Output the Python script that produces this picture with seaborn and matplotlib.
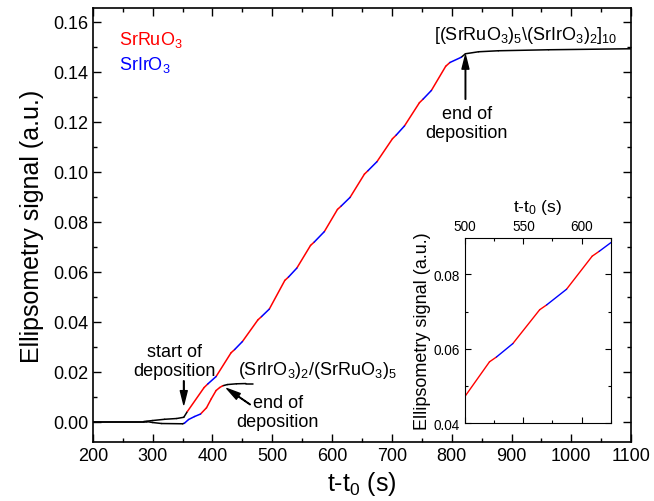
import matplotlib
matplotlib.use("Agg")
import matplotlib.pyplot as plt
import pandas as pd
import seaborn as sns
from matplotlib.ticker import MultipleLocator, FormatStrFormatter

# ---- data ----
# superlattice [(SrRuO3)5\(SrIrO3)2]10 : breakpoints (s, a.u.); layer of each following segment
sl_t = [200, 285, 300, 320, 340, 352, 358,
        386, 392, 406, 431, 437, 450, 476, 482, 495, 521, 527, 541,
        564, 570, 587, 609, 615, 630, 654, 660, 675, 701, 707, 721,
        746, 752, 766, 790, 797, 816,
        823, 845, 878, 962, 1100]
sl_y = [0.0, 0.0, 0.0004, 0.0009, 0.0012, 0.0017, 0.0040,
        0.0136, 0.0150, 0.0180, 0.0275, 0.0288, 0.0320, 0.0407, 0.0420, 0.0450,
        0.0565, 0.0578, 0.0614, 0.0705, 0.0718, 0.0760, 0.0849, 0.0862, 0.0897,
        0.0990, 0.1004, 0.1040, 0.1132, 0.1146, 0.1183, 0.1276, 0.1290, 0.1325,
        0.1422, 0.1437, 0.1458,
        0.1472, 0.1480, 0.1484, 0.1488, 0.1492]
sl_layer = ["none"] * 6 + ["SrRuO3", "SrRuO3", "SrIrO3"] * 10 + ["none"] * 5

# single bilayer (SrIrO3)2/(SrRuO3)5
bl_t = [200, 290, 300, 315, 350, 353, 360, 370, 380, 390, 398, 406, 412, 417,
        425, 440, 456, 467]
bl_y = [0.0, 0.0, -0.0004, -0.0008, -0.0009, -0.0007, 0.0008, 0.0020, 0.0030,
        0.0055, 0.0091, 0.0124, 0.0136, 0.0143, 0.0148, 0.0151, 0.0152, 0.0152]
bl_layer = ["none"] * 5 + ["SrIrO3"] * 3 + ["SrRuO3"] * 5 + ["none"] * 4

x_ticks = [200, 300, 400, 500, 600, 700, 800, 900, 1000, 1100]
y_ticks = [0.00, 0.02, 0.04, 0.06, 0.08, 0.10, 0.12, 0.14, 0.16]
inset_x_ticks = [500, 550, 600]
inset_y_ticks = [0.04, 0.06, 0.08]

palette = {"SrRuO3": "#ff0000", "SrIrO3": "#0000ff", "none": "black"}


def segments(t, y, layer, trace):
    rows = []
    for i, lay in enumerate(layer):
        for j in (i, i + 1):
            rows.append({"t": t[j], "signal": y[j], "layer": lay, "seg": f"{trace}{i}"})
    return pd.DataFrame(rows)


df = pd.concat([segments(sl_t, sl_y, sl_layer, "sl"),
                segments(bl_t, bl_y, bl_layer, "bl")], ignore_index=True)

sns.set_theme(style="ticks")
plt.rcParams.update({
    "font.family": ["Liberation Sans", "DejaVu Sans"],
    "mathtext.fontset": "custom",
    "mathtext.rm": "Liberation Sans",
    "mathtext.it": "Liberation Sans:italic",
    "mathtext.default": "regular",
    "axes.edgecolor": "black",
    "xtick.color": "black",
    "ytick.color": "black",
    "text.color": "black",
    "axes.labelcolor": "black",
})

fig = plt.figure(figsize=(6.54, 5.02), dpi=100)
ax = fig.add_axes([0.142, 0.118, 0.823, 0.864])

sns.lineplot(data=df, x="t", y="signal", hue="layer", units="seg", estimator=None,
             palette=palette, legend=False, linewidth=1.1, ax=ax)

ax.set_xlim(200, 1100)
ax.set_ylim(-0.0081, 0.1655)
ax.set_xticks(x_ticks)
ax.set_yticks(y_ticks)
ax.xaxis.set_minor_locator(MultipleLocator(50))
ax.yaxis.set_minor_locator(MultipleLocator(0.01))
ax.yaxis.set_major_formatter(FormatStrFormatter("%.2f"))
ax.tick_params(which="both", direction="in", top=True, right=True, width=1.0, labelsize=13)
ax.tick_params(which="major", length=6)
ax.tick_params(which="minor", length=3)
for s in ax.spines.values():
    s.set_linewidth(1.2)
ax.set_xlabel("t-t$_0$ (s)", fontsize=18, labelpad=4)
ax.set_ylabel("Ellipsometry signal (a.u.)", fontsize=18, labelpad=6)

# labels / legend-like texts
ax.text(243, 0.1531, "SrRuO$_3$", color="#ff0000", fontsize=13, va="center", ha="left")
ax.text(243, 0.1431, "SrIrO$_3$", color="#0000ff", fontsize=13, va="center", ha="left")
ax.text(923, 0.1551, r"[(SrRuO$_3$)$_5$\(SrIrO$_3$)$_2$]$_{10}$", fontsize=13,
        ha="center", va="center")
ax.text(442, 0.0207, "(SrIrO$_3$)$_2$/(SrRuO$_3$)$_5$", fontsize=13, ha="left", va="center")

arrow = dict(facecolor="black", edgecolor="black", width=0.4, headwidth=5,
             headlength=10, shrink=0)
ax.text(825, 0.1195, "end of\ndeposition", fontsize=13, ha="center", va="center",
        linespacing=1.15)
ax.annotate("", xy=(823, 0.1466), xytext=(823, 0.1290), arrowprops=arrow)
ax.text(337, 0.0243, "start of\ndeposition", fontsize=13, ha="center", va="center",
        linespacing=1.15)
ax.annotate("", xy=(352, 0.0068), xytext=(352, 0.0163), arrowprops=arrow)
ax.annotate("", xy=(424, 0.0132), xytext=(463, 0.0068), arrowprops=arrow)
ax.text(509, 0.0039, "end of\ndeposition", fontsize=13, ha="center", va="center",
        linespacing=1.15)

# ---- inset ----
axi = fig.add_axes([0.711, 0.155, 0.223, 0.369])
sns.lineplot(data=df, x="t", y="signal", hue="layer", units="seg", estimator=None,
             palette=palette, legend=False, linewidth=1.0, ax=axi)
axi.set_xlim(500, 625)
axi.set_ylim(0.04, 0.0898)
axi.set_xticks(inset_x_ticks)
axi.set_yticks(inset_y_ticks)
axi.xaxis.set_minor_locator(MultipleLocator(25))
axi.yaxis.set_minor_locator(MultipleLocator(0.01))
axi.yaxis.set_major_formatter(FormatStrFormatter("%.2f"))
axi.tick_params(which="both", direction="in", top=True, bottom=True, left=True,
                right=True, labeltop=True, labelbottom=False, labelsize=9.8, width=0.8)
axi.tick_params(which="major", length=4)
axi.tick_params(which="minor", length=2.5)
axi.xaxis.set_label_position("top")
axi.set_xlabel("t-t$_0$ (s)", fontsize=12.5, labelpad=6)
axi.set_ylabel("Ellipsometry signal (a.u.)", fontsize=13, labelpad=2)
for s in axi.spines.values():
    s.set_linewidth(0.8)

fig.savefig("out.png", dpi=100)
